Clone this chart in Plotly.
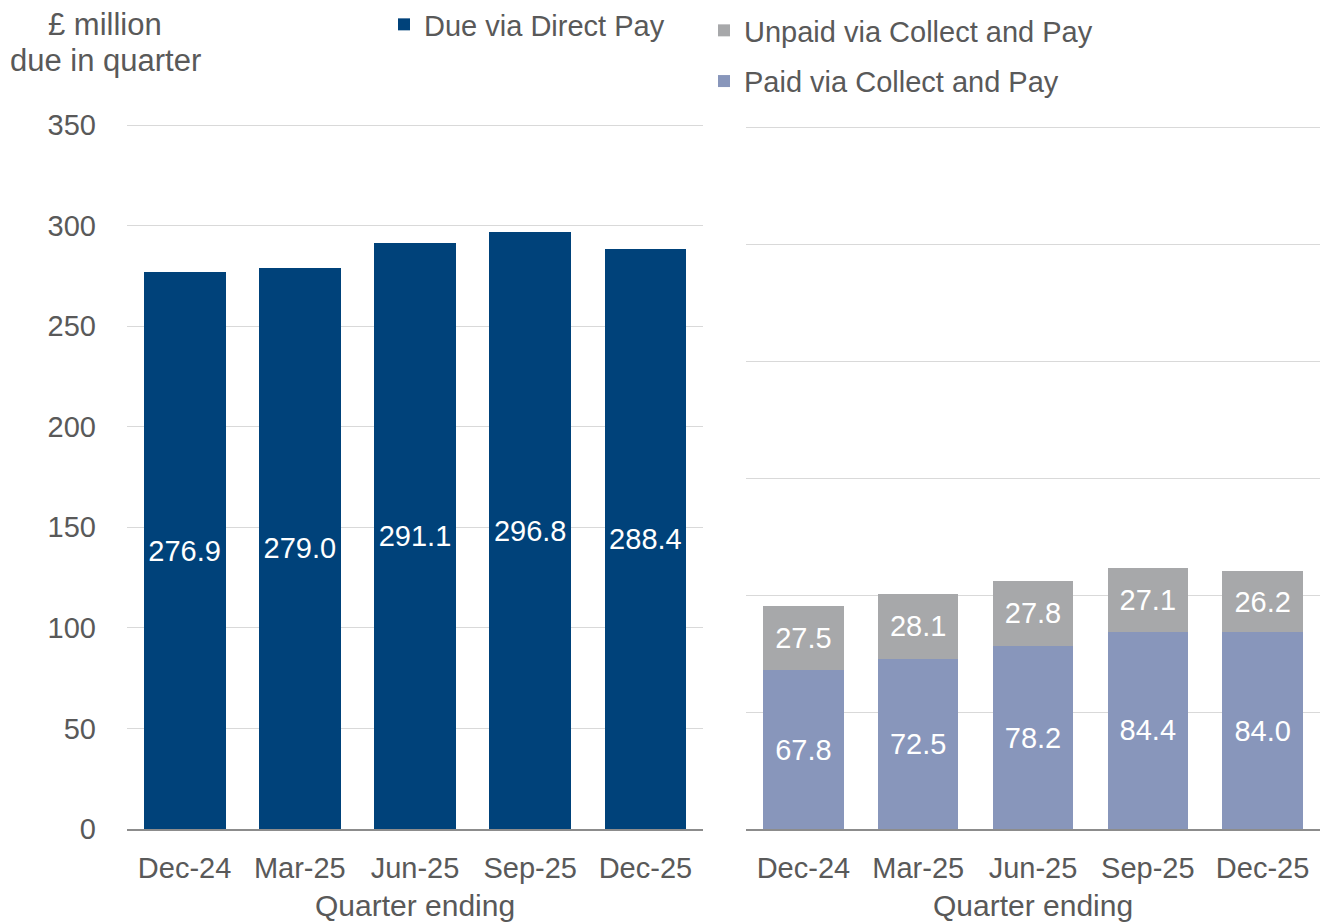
import plotly.graph_objects as go

quarters = ["Dec-24", "Mar-25", "Jun-25", "Sep-25", "Dec-25"]
direct_pay = [276.9, 279.0, 291.1, 296.8, 288.4]
paid_cp = [67.8, 72.5, 78.2, 84.4, 84.0]
unpaid_cp = [27.5, 28.1, 27.8, 27.1, 26.2]

DARK = "#00427A"
PAID = "#8896BB"
UNPAID = "#A7A8AA"
TXT = "#595959"
FONT = "Arial, Liberation Sans, sans-serif"
FS = 29
FS_TITLE = 31

W, H = 1320, 924

fig = go.Figure()
fig.add_trace(go.Bar(
    x=quarters, y=direct_pay, name="Due via Direct Pay",
    marker=dict(color=DARK, line=dict(width=0)),
    text=[f"{v:.1f}" for v in direct_pay], textposition="inside",
    insidetextanchor="middle", textangle=0,
    textfont=dict(color="white", size=FS, family=FONT),
    xaxis="x", yaxis="y", width=0.71, legend="legend",
))
fig.add_trace(go.Bar(
    x=quarters, y=paid_cp, name="Paid via Collect and Pay",
    marker=dict(color=PAID, line=dict(width=0)),
    text=[f"{v:.1f}" for v in paid_cp], textposition="inside",
    insidetextanchor="middle", textangle=0,
    textfont=dict(color="white", size=FS, family=FONT),
    xaxis="x2", yaxis="y2", width=0.70, legend="legend2",
    legendgroup="paid", legendrank=2,
))
fig.add_trace(go.Bar(
    x=quarters, y=unpaid_cp, name="Unpaid via Collect and Pay",
    marker=dict(color=UNPAID, line=dict(width=0)),
    text=[f"{v:.1f}" for v in unpaid_cp], textposition="inside",
    insidetextanchor="middle", textangle=0,
    textfont=dict(color="white", size=FS, family=FONT),
    xaxis="x2", yaxis="y2", width=0.70, legend="legend2",
    legendgroup="unpaid", legendrank=1,
))

# pixel geometry of the plot areas
Y0 = 829
L_TOP350 = 125
R_TOP300 = 127
l_ppu = (Y0 - L_TOP350) / 350.0
r_ppu = (Y0 - R_TOP300) / 300.0
L_MAX, R_MAX = 351.5, 301.5
l_top = Y0 - L_MAX * l_ppu
r_top = Y0 - R_MAX * r_ppu
y0 = (H - Y0) / H

common_x = dict(
    showgrid=False, showline=True, linecolor="#8C8C8C", linewidth=1.5,
    ticks="outside", ticklen=12, tickcolor="rgba(0,0,0,0)",
    tickfont=dict(size=FS, color=TXT, family=FONT), fixedrange=True,
    automargin=False,
)
fig.update_layout(
    width=W, height=H, autosize=False,
    margin=dict(l=0, r=0, t=0, b=0, pad=0, autoexpand=False),
    paper_bgcolor="white", plot_bgcolor="white",
    barmode="stack",
    font=dict(family=FONT, color=TXT, size=FS),
    xaxis=dict(domain=[127 / W, 703 / W], anchor="y", **common_x),
    xaxis2=dict(domain=[746 / W, 1.0], anchor="y2", **common_x),
    yaxis=dict(domain=[y0, (H - l_top) / H], range=[0, L_MAX],
               tickvals=[0, 50, 100, 150, 200, 250, 300, 350],
               showgrid=True, gridcolor="#D9D9D9", gridwidth=1,
               zeroline=False, showline=False, ticks="",
               ticklabelstandoff=30, automargin=False, fixedrange=True,
               tickfont=dict(size=FS, color=TXT, family=FONT), anchor="x"),
    yaxis2=dict(domain=[y0, (H - r_top) / H], range=[0, R_MAX],
                tickvals=[0, 50, 100, 150, 200, 250, 300],
                showgrid=True, gridcolor="#D9D9D9", gridwidth=1,
                zeroline=False, showline=False, showticklabels=False,
                automargin=False, fixedrange=True, anchor="x2"),
    legend=dict(x=384 / W, y=1 + 1 / H, xanchor="left", yanchor="top",
                font=dict(size=FS, color=TXT, family=FONT),
                bgcolor="rgba(0,0,0,0)", itemclick=False),
    legend2=dict(x=704 / W, y=1 - 5 / H, xanchor="left", yanchor="top",
                 traceorder="grouped", tracegroupgap=10,
                 font=dict(size=FS, color=TXT, family=FONT),
                 bgcolor="rgba(0,0,0,0)", itemclick=False),
    showlegend=True,
)

for txt, yc in [("£ million", 25), ("due in quarter", 60)]:
    fig.add_annotation(text=txt, xref="paper", yref="paper",
                       x=105 / W, y=1 - yc / H, xanchor="center", yanchor="middle",
                       showarrow=False, align="center",
                       font=dict(size=FS_TITLE, color=TXT, family=FONT))
for cx in [(127 + 703) / 2 / W, (746 + 1320) / 2 / W]:
    fig.add_annotation(text="Quarter ending", xref="paper", yref="paper",
                       x=cx, y=1 - 905 / H, xanchor="center", yanchor="middle",
                       showarrow=False,
                       font=dict(size=30, color=TXT, family=FONT))

fig.write_html("out.html", config={"displayModeBar": False},
               post_script="document.body.style.margin='0';document.body.style.overflow='hidden';")
